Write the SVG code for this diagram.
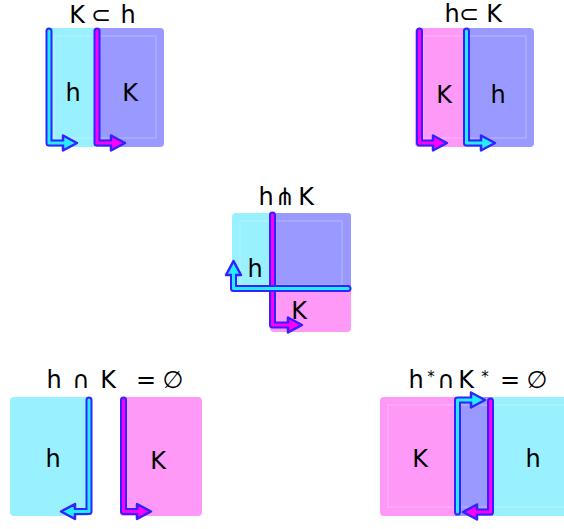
<svg xmlns="http://www.w3.org/2000/svg" width="564" height="529" viewBox="0 0 564 529">
<style>
.cy{fill:#99f0ff}
.pk{fill:#ff99f7}
.pu{fill:#9999ff}
.faint{fill:none;stroke:#ffffff;stroke-opacity:0.3;stroke-width:1}
.ol{fill:none;stroke:#3322ff;stroke-width:7;stroke-linecap:round;stroke-linejoin:round}
.ic{fill:none;stroke:#22eeff;stroke-width:3;stroke-linecap:round;stroke-linejoin:round}
.im{fill:none;stroke:#ff00ff;stroke-width:3;stroke-linecap:round;stroke-linejoin:round}
.hc{fill:#22eeff;stroke:#3322ff;stroke-width:2.5;stroke-linejoin:round}
.hm{fill:#ff00ff;stroke:#3322ff;stroke-width:2.5;stroke-linejoin:round}
text{font-family:"DejaVu Sans","Liberation Sans",sans-serif;fill:#000;text-anchor:middle}
.t{font-size:24px}
.l{font-size:24px}
.s{font-size:15px}
</style>

<g id="panel-k-sub-h">
  <rect class="cy" x="46" y="28" width="52" height="119" rx="4"/>
  <rect class="pu" x="94" y="28" width="70" height="119" rx="4"/>
  <rect class="faint" x="54" y="36" width="102" height="102"/>
  <text class="t" x="77 101 128" y="23">K⊂h</text>
  <text class="l" x="73" y="101">h</text>
  <text class="l" x="130" y="101">K</text>
</g>

<g id="panel-h-sub-k">
  <rect class="pk" x="415" y="28" width="52" height="119" rx="4"/>
  <rect class="pu" x="463" y="28" width="71" height="119" rx="4"/>
  <rect class="faint" x="423" y="36" width="103" height="102"/>
  <text class="t" x="452 469 494" y="22">h⊂K</text>
  <text class="l" x="444" y="103">K</text>
  <text class="l" x="498" y="103">h</text>
</g>

<g id="panel-transverse">
  <rect class="pk" x="270" y="213" width="81" height="119" rx="4"/>
  <rect class="cy" x="232" y="213" width="118" height="77" rx="4"/>
  <rect class="pu" x="270" y="213" width="81" height="77" rx="3"/>
  <rect class="faint" x="240" y="221" width="102" height="64"/>
  <text class="t" x="266 285 306" y="205">h⋔K</text>
  <text class="l" x="255" y="277">h</text>
  <text class="l" x="299" y="319">K</text>
</g>

<g id="panel-disjoint">
  <rect class="cy" x="10" y="397" width="79" height="119" rx="4"/>
  <rect class="pk" x="120" y="397" width="82" height="119" rx="4"/>
  <text class="t" x="54 81 108 146 173" y="388">h∩K=∅</text>
  <text class="l" x="53" y="467">h</text>
  <text class="l" x="158" y="469">K</text>
</g>

<g id="panel-dual-disjoint">
  <rect class="pk" x="380" y="397" width="113" height="119" rx="4"/>
  <rect class="cy" x="455" y="397" width="120" height="119" rx="4"/>
  <rect class="pu" x="455" y="397" width="38" height="119"/>
  <rect class="faint" x="388" y="405" width="180" height="102"/>
  <text class="t" y="388"><tspan x="416">h</tspan><tspan class="s" x="431" y="382">*</tspan><tspan x="446" y="388">∩</tspan><tspan x="466">K</tspan><tspan class="s" x="485" y="382">*</tspan><tspan x="510" y="388">=</tspan><tspan x="537">∅</tspan></text>
  <text class="l" x="420" y="467">K</text>
  <text class="l" x="533" y="467">h</text>
</g>

<g id="connectors">
  <path class="ol" d="M49 31V143H66"/>
  <polygon class="hc" points="63,135.5 77,143 63,150.5"/>
  <path class="ic" d="M49 31V143H66"/>
  <path class="ol" d="M97 31V143H114"/>
  <polygon class="hm" points="111,135.5 125,143 111,150.5"/>
  <path class="im" d="M97 31V143H114"/>
  <path class="ol" d="M419.5 31V143H436"/>
  <polygon class="hm" points="433,135.5 447,143 433,150.5"/>
  <path class="im" d="M419.5 31V143H436"/>
  <path class="ol" d="M466.5 31V143H484"/>
  <polygon class="hc" points="481,135.5 495,143 481,150.5"/>
  <path class="ic" d="M466.5 31V143H484"/>
  <path class="ol" d="M272.5 215V325H291"/>
  <polygon class="hm" points="288,317.5 302,325 288,332.5"/>
  <path class="im" d="M272.5 215V325H291"/>
  <path class="ol" d="M348 288.5H233.5V273"/>
  <polygon class="hc" points="226,275 233.5,261 241,275"/>
  <path class="ic" d="M348 288.5H233.5V273"/>
  <path class="ol" d="M89 400V511.5H72"/>
  <polygon class="hc" points="75,504 61,511.5 75,519"/>
  <path class="ic" d="M89 400V511.5H72"/>
  <path class="ol" d="M123.5 400V511.5H140"/>
  <polygon class="hm" points="137,504 151,511.5 137,519"/>
  <path class="im" d="M123.5 400V511.5H140"/>
  <path class="ol" d="M490.5 401V512H474"/>
  <polygon class="hm" points="477,504.5 463,512 477,519.5"/>
  <path class="im" d="M490.5 401V512H474"/>
  <path class="ol" d="M457.5 512V400H474"/>
  <polygon class="hc" points="471,392.5 485,400 471,407.5"/>
  <path class="ic" d="M457.5 512V400H474"/>
</g>
</svg>
